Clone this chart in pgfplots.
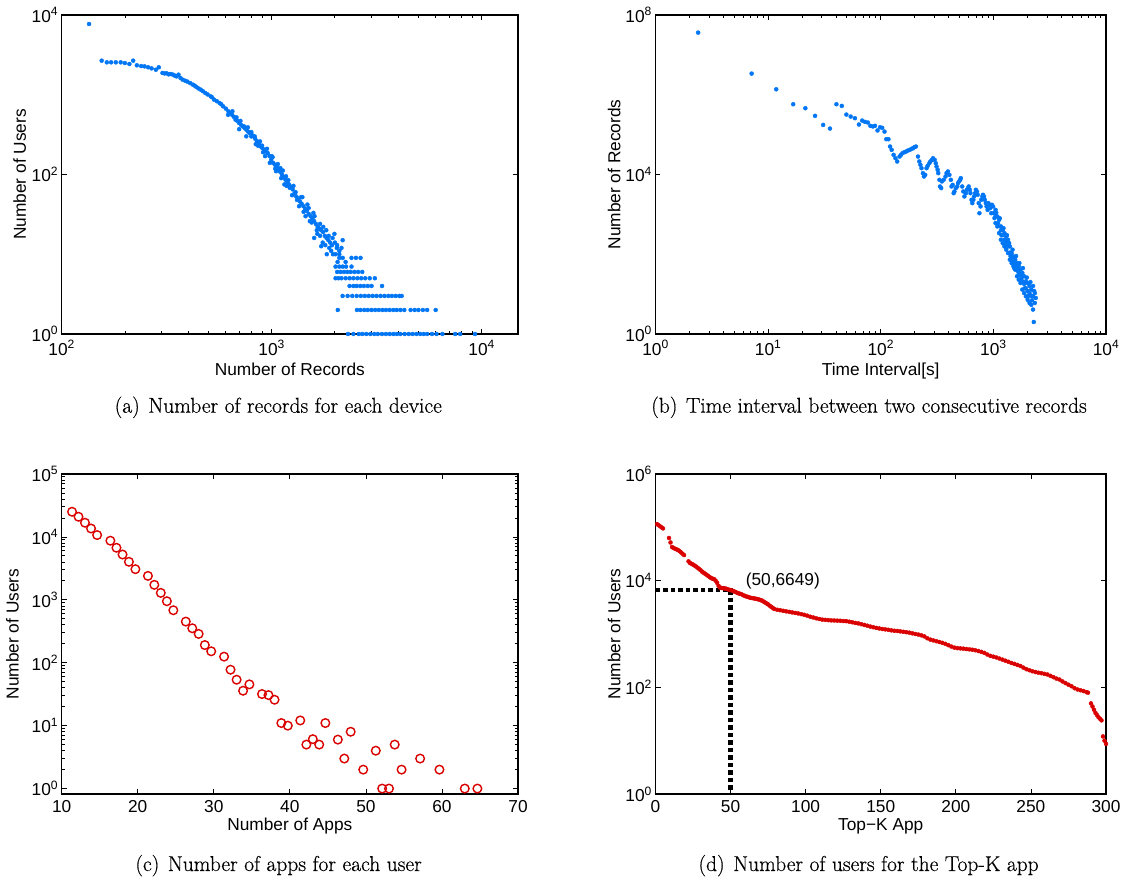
\documentclass[border=0pt]{standalone}
\usepackage{fontspec}
\usepackage{pgfplots}
\pgfplotsset{compat=1.18}
\newfontfamily\axfont{Liberation Sans}
\newfontfamily\capfont{Latin Modern Roman}[FakeBold=0.5]
\definecolor{ptblue}{RGB}{0,118,245}
\definecolor{ptred}{RGB}{218,0,0}
\newcommand\axfs{\axfont\fontsize{17.3}{19}\selectfont}
\newcommand\capfs{\capfont\fontsize{21.5}{24}\selectfont}
\pgfplotsset{log number format basis/.code 2 args={#1\textsuperscript{\pgfmathprintnumber{#2}}}}
\pgfplotsset{
 base/.style={
  scale only axis, anchor=south west,
  axis line style={line width=1.1pt},
  every tick/.style={black, line width=0.8pt},
  major tick length=5pt, minor tick length=3pt,
  tick label style={font=\axfs},
  xticklabel style={yshift=-3pt},
  every axis label/.append style={font=\axfs},
  /pgf/number format/assume math mode=true,
 }
}
\begin{document}
\begin{tikzpicture}
\path[use as bounding box] (0,0) rectangle (1130pt,877pt);
% (a)
\begin{axis}[base, at={(61.7pt,543pt)}, width=456.3pt, height=319pt,
  xmode=log, ymode=log, xmin=100, xmax=14900, ymin=1, ymax=10000,
  xtick={100,1000,10000}, ytick={1,100,10000}, yminorticks=false,
  minor xtick={200,300,400,500,600,700,800,900,2000,3000,4000,5000,6000,7000,8000,9000},
  xlabel={Number of Records}, ylabel={Number of Users},
  xlabel style={at={(axis description cs:0.5,-0.131)}, anchor=base},
  ylabel style={at={(axis description cs:-0.092,0.5)}, anchor=center}]
\addplot[only marks, mark=*, mark size=2pt, ptblue] coordinates {
(135,7710)
(155,2675)(164,2550)(172,2550)(181,2550)(191,2550)(200,2500)(210,2430)(219,2675)(228,2340)(239,2290)(248,2270)(258,2210)(268,2140)(281,2060)(290,2210)(302,1875)(316,1860)(330,1820)(346,1735)(360,1785)(377,1545)(397,1460)(421,1340)(438,1250)(459,1160)(483,1050)(512,955)(532,867)(565,788)(587,716)(622,620)(647,562)(673,487)(700,442)(728,402)(757,365)(787,331)(819,301)(851,261)(885,225)(920,205)(957,186)(995,153)(1035,133)(1076,115)(1119,99.5)(1164,86)(1211,75)(1259,65)(1309,53)(1362,46)(1416,40)(1473,35)(1532,30)(1593,26)(1656,22)(1722,20)(1791,17)(1862,15)(1937,13)(2014,10)
(309,1850)(323,1800)(338,1790)(352,1700)(368,1620)(387,1500)(409,1400)(430,1300)(448,1200)(470,1110)(495,1010)(520,930)(548,830)(575,760)(605,670)(635,590)(660,530)(686,470)(714,420)(742,385)(772,345)(803,315)(835,280)(868,245)(902,215)(938,195)(976,170)(1015,140)(1055,125)(1098,108)(1141,92)(1187,80)(1235,70)(1284,58)(1335,50)(1389,43)(1444,37)(1502,32)(1562,28)(1624,24)(1689,21)(1756,19)(1826,16)(1900,14)
(700,370)(757,301)(800,340)(840,240)(900,230)(930,170)(1000,170)(1050,110)(1100,120)(1150,75)(1200,85)(1250,55)(1300,60)(1350,40)(1400,52)(1450,30)(1500,38)(1550,25)(1600,30)(1593,16)(1650,18)(1700,24)(1722,12.6)(1750,14)(1820,20)(1880,12)(1950,16)(2000,14)(2043,12)(2100,11)(2178,15)
(620,560)(650,620)(680,520)(710,470)(740,400)(770,390)(800,300)(830,300)(860,230)(880,260)(910,190)(950,210)(980,140)(1010,165)(1040,118)(1070,135)(1110,90)(1130,112)(1170,95)(1180,72)(1220,68)(1270,72)(1320,48)(1380,52)(1420,34)(1480,42)(1520,26)(1580,33)(1640,20)(1700,17)(1760,22)(1800,13)(1870,17)(1920,11)(1990,18)(2050,13)(2150,12)
(1830,10)(1960,10)(2100,10)
(2100,9)(2180,9)(2400,9)(2520,9)(2650,9)
(2060,8)(2250,8)
(2015,7)(2100,7)(2180,7)(2260,7)(2400,7)
(2050,6)(2130,6)(2210,6)(2290,6)(2380,6)(2480,6)(2580,6)(2700,6)
(2015,5)(2080,5)(2150,5)(2250,5)(2350,5)(2450,5)(2560,5)(2670,5)(2790,5)(2930,5)(3100,5)
(2350,4)(2450,4)(2540,4)(2640,4)(2750,4)(2870,4)(2990,4)(3355,4)
(2178,3)(2300,3)(2420,3)(2540,3)(2660,3)(2780,3)(2900,3)(3030,3)(3160,3)(3300,3)(3440,3)(3590,3)(3740,3)(3900,3)(4060,3)(4160,3)
(2065,2)(2548,2)(2650,2)(2760,2)(2870,2)(2990,2)(3110,2)(3240,2)(3370,2)(3500,2)(3640,2)(3790,2)(3940,2)(4100,2)(4280,2)(4590,2)(4800,2)(5000,2)(5250,2)(5500,2)(6040,2)
(2310,1)(2450,1)(2600,1)(2700,1)(2820,1)(2950,1)(3080,1)(3200,1)(3350,1)(3500,1)(3650,1)(3800,1)(3950,1)(4100,1)(4300,1)(4500,1)(4700,1)(4900,1)(5100,1)(5300,1)(5500,1)(5800,1)(6100,1)(6500,1)(7480,1)(7900,1)(9300,1)
};
\end{axis}
% (b)
\begin{axis}[base, at={(655.5pt,543pt)}, width=450.5pt, height=319pt,
  xmode=log, ymode=log, xmin=1, xmax=10000, ymin=1, ymax=1e8,
  xtick={1,10,100,1000,10000}, ytick={1,1e4,1e8}, yminorticks=false,
  minor xtick={2,3,4,5,6,7,8,9,20,30,40,50,60,70,80,90,200,300,400,500,600,700,800,900,2000,3000,4000,5000,6000,7000,8000,9000},
  xlabel={Time Interval[s]}, ylabel={Number of Records},
  xlabel style={at={(axis description cs:0.5,-0.131)}, anchor=base},
  ylabel style={at={(axis description cs:-0.0915,0.5)}, anchor=center}]
\addplot[only marks, mark=*, mark size=2pt, ptblue] coordinates {
(2.39,3.61e7)(7.14,3.39e6)(11.8,1.37e6)(16.7,5.78e5)(21.4,4.59e5)(26.1,2.95e5)(30.8,1.75e5)(35.4,1.42e5)(40.4,5.78e5)(45.1,5.25e5)(49.5,3.18e5)(54.1,2.84e5)(59.0,2.58e5)(64.0,1.79e5)(68.4,2.25e5)(72.4,2.09e5)(76.8,2.01e5)(80.9,1.66e5)(85.1,1.60e5)(88.9,1.66e5)(93.6,1.27e5)(98.6,1.53e5)(103,1.48e5)(108,1.19e5)(112,7.67e4)(117,7.67e4)(121,5.03e4)(130,3.11e4)(140,2.12e4)(147,2.82e4)(156,3.42e4)(168,3.77e4)(181,4.15e4)(194,4.57e4)(205,5.02e4)(214,2.82e4)(225,1.75e4)(237,1.08e4)(248,9.8e3)(255,1.44e4)(270,1.92e4)(284,2.33e4)(301,2.33e4)(313,1.58e4)(324,1.08e4)(336,5.0e3)(349,6.7e3)(376,8.9e3)(395,1.19e4)(419,7.35e3)(435,5.5e3)(451,3.75e3)(478,5.0e3)(496,6.7e3)(514,8.1e3)(529,5.0e3)(553,2.81e3)(582,4.13e3)(604,5.0e3)(626,3.4e3)(650,1.91e3)(674,2.81e3)(699,4.13e3)(725,3.1e3)(752,1.07e3)(780,2.32e3)(809,3.1e3)(839,2.32e3)(870,1.58e3)(903,1.91e3)(936,1.44e3)(971,1.74e3)(1007,1.07e3)
(125,4.15e4)(135,2.56e4)(151,3.11e4)(162,3.63e4)(174,3.98e4)(188,4.4e4)(199,4.84e4)(220,2.12e4)(230,1.44e4)(242,8.9e3)(261,1.65e4)(276,2.12e4)(291,2.56e4)(308,1.92e4)(320,1.31e4)(332,7.35e3)(344,4.55e3)(362,7.35e3)(384,1.08e4)(407,9.8e3)(425,5.0e3)(444,3.4e3)(464,4.55e3)(485,6.07e3)(507,7.35e3)(541,3.75e3)(570,3.4e3)(595,4.55e3)(617,4.13e3)(640,2.32e3)(664,2.32e3)(689,3.4e3)(714,3.75e3)(741,1.91e3)(769,1.58e3)(798,2.81e3)(826,2.81e3)(857,1.91e3)(889,1.30e3)(923,1.74e3)(957,1.07e3)(993,1.58e3)(1023,805)
(1045,1300)(1045,887)(1045,604)(1084,887)(1084,498)(1124,731)(1124,339)(1166,498)(1166,231)(1166,400)(1210,411)(1210,190)(1210,300)(1254,339)(1254,157)(1254,231)(1301,280)(1301,130)(1301,200)(1349,231)(1349,107)(1349,157)(1400,157)(1400,73)(1400,110)(1452,107)(1452,60)(1452,80)(1506,88)(1506,50)(1506,65)(1563,73)(1563,41)(1563,55)(1621,60)(1621,28)(1621,45)(1680,50)(1680,23)(1680,34)(1742,41)(1742,19)(1742,30)(1807,34)(1807,13)(1807,21)(1875,28)(1875,10.6)(1875,18)(1945,21)(1945,8.8)(1945,14)(2017,19)(2017,7.2)(2017,12)(2093,16)(2093,6.0)(2093,10.6)(2171,13)(2171,5.4)(2171,9)(2250,16)(2250,8.8)(2250,4.1)(2335,10.6)(2335,6)(2285,2)
(1060,1100)(1100,600)(1140,800)(1180,300)(1230,450)(1280,170)(1320,300)(1380,190)(1420,90)(1480,130)(1530,45)(1590,90)(1650,38)(1700,60)(1770,25)(1830,45)(1900,14)(1980,26)(2050,9)(2130,20)(2200,7)(2300,12)(2380,8)
};
\end{axis}
% (c)
\begin{axis}[base, at={(61.7pt,83pt)}, width=456.3pt, height=320pt,
  ymode=log, xmin=10, xmax=70, ymin=0.82, ymax=1e5,
  xtick={10,20,...,70}, ytick={1,10,100,1000,10000,100000},
  minor ytick={2,3,4,5,6,7,8,9,20,30,40,50,60,70,80,90,200,300,400,500,600,700,800,900,2000,3000,4000,5000,6000,7000,8000,9000,20000,30000,40000,50000,60000,70000,80000,90000},
  xlabel={Number of Apps}, ylabel={Number of Users},
  xlabel style={at={(axis description cs:0.5,-0.113)}, anchor=base},
  ylabel style={at={(axis description cs:-0.108,0.5)}, anchor=center}]
\addplot[only marks, mark=o, mark size=4.3pt, ptred, line width=1.4pt] coordinates {
(11.36,25100)(12.21,20900)(13.06,16800)(13.86,13600)(14.66,10700)(16.40,8700)(17.20,6720)(18.0,5250)(18.84,4020)(19.69,3070)(21.34,2400)(22.18,1730)(23.03,1290)(23.83,950)(24.68,683)(26.32,451)(27.17,353)(28.01,287)(28.82,191)(29.66,152)(31.35,125)(32.2,77.5)(33.0,53.7)(33.85,35.9)(34.68,45.3)(36.34,31.8)(37.19,30.6)(37.99,25.8)(38.88,11)(39.73,10)(41.37,12.1)(42.17,5)(43.02,6.1)(43.86,5)(44.67,11)(46.31,6)(47.16,3)(48.0,8)(49.65,2)(51.3,4)(52.14,1)(53.04,1)(53.79,5)(54.69,2)(57.13,3)(59.67,2)(63.0,1)(64.66,1)
};
\end{axis}
% (d)
\begin{axis}[base, at={(655.5pt,83pt)}, width=450.5pt, height=320pt,
  ymode=log, xmin=0, xmax=300, ymin=1, ymax=1e6,
  xtick={0,50,...,300}, ytick={1,100,10000,1000000}, yminorticks=false,
  xlabel={Top\textminus K App}, ylabel={Number of Users},
  xlabel style={at={(axis description cs:0.5,-0.113)}, anchor=base},
  ylabel style={at={(axis description cs:-0.0915,0.5)}, anchor=center}]
\addplot[only marks, mark=*, mark size=2pt, ptred] coordinates {
(1,114800)(2,110000)(3,104700)(4,100000)(5,95500)(9,63100)(10,52000)(11,42700)(12,41000)(13,39800)(14,38700)(15,37600)(16,35700)(17,33900)(18,32000)(19,30200)(22,23000)(23,21400)(24,20700)(25,20000)(26,19200)(27,18400)(28,17500)(29,16600)(30,15700)(31,14800)(32,14100)(33,13500)(34,12900)(35,12300)(36,11700)(37,11200)(38,10900)(39,10700)(40,10000)(41,9120)(42,8000)(43,7410)(44,7300)(45,7240)(46,7150)(47,7080)(48,6900)(49,6760)(50,6649)(51,6530)(52,6350)(53,6170)(54,6000)(55,5820)(56,5700)(57,5620)(58,5400)(59,5250)(60,5100)(61,5010)(62,4900)(63,4790)(64,4730)(65,4680)(66,4620)(67,4570)(68,4500)(69,4420)(70,4320)(71,4220)(72,4050)(73,3890)(74,3740)(75,3590)(76,3400)(77,3240)(78,3100)(79,2950)(81,2850)(83,2790)(85,2720)(87,2660)(89,2600)(91,2540)(93,2480)(95,2430)(97,2360)(99,2290)(101,2210)(103,2110)(105,2040)(107,1970)(109,1910)(111,1860)(113,1840)(115,1820)(117,1800)(119,1790)(121,1780)(123,1770)(125,1750)(127,1740)(129,1700)(131,1660)(133,1610)(135,1580)(137,1530)(139,1480)(141,1430)(143,1380)(145,1340)(147,1300)(149,1270)(151,1240)(153,1220)(155,1200)(157,1170)(159,1150)(161,1140)(163,1120)(165,1100)(167,1080)(169,1060)(171,1030)(173,1000)(175,977)(177,944)(179,902)(181,832)(183,785)(185,759)(187,733)(189,708)(191,684)(193,653)(195,617)(197,582)(199,556)(201,543)(203,537)(205,531)(207,522)(209,515)(211,507)(213,495)(215,479)(217,462)(219,442)(221,412)(223,389)(225,376)(227,363)(229,347)(231,331)(233,316)(235,302)(237,286)(239,275)(241,263)(243,251)(245,234)(247,219)(249,209)(251,200)(253,193)(255,188)(257,184)(259,179)(261,174)(263,164)(265,155)(267,146)(269,140)(271,129)(273,120)(275,112)(277,105)(279,96.6)(281,91.2)(283,88.1)(285,85.1)(287,81.3)(288,79.4)(290,50)(291,43.7)(292,38)(293,33.1)(294,30.2)(295,27.5)(296,25.7)(297,24)(298,12)(299,10)(300,8.7)
};
\addplot[black, line width=4.5pt, dash pattern=on 4.5pt off 3pt] coordinates {(0,6649) (50,6649) (50,1)};
\node[anchor=west, font=\axfs, inner sep=0pt] at (axis cs:60,10000) {(50,6649)};
\end{axis}
% captions
\node[anchor=base, font=\capfs] at (278.3pt,464.3pt) {(a)\hspace{0.4em}Number of records for each device};
\node[anchor=base, font=\capfs] at (869pt,464.3pt) {(b)\hspace{0.4em}Time interval between two consecutive records};
\node[anchor=base, font=\capfs] at (278.6pt,6pt) {(c)\hspace{0.4em}Number of apps for each user};
\node[anchor=base, font=\capfs] at (868.6pt,6pt) {(d)\hspace{0.4em}Number of users for the Top-K app};
\end{tikzpicture}
\end{document}
